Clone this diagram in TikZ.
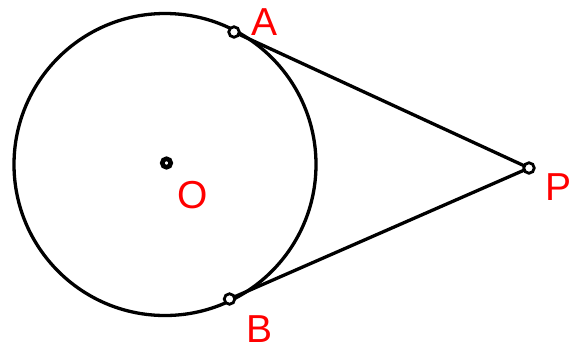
\documentclass[tikz,border=0pt]{standalone}
\usepackage{fontspec}
\setmainfont{Liberation Sans}
\begin{document}
\begin{tikzpicture}[x=1pt,y=-1pt,
  line width=3.3pt,
  lbl/.style={text=red,inner sep=0pt,font=\fontsize{39}{47}\selectfont},
  pt/.style={circle,draw=black,fill=white,line width=2.8pt,inner sep=0pt,minimum size=10.5pt},
  ctr/.style={circle,draw=black,fill=white,line width=4.6pt,inner sep=0pt,minimum size=8.5pt}]
\useasboundingbox (0,0) rectangle (580,349);
\coordinate (C) at (165,164.5);
\draw (C) circle[radius=151pt];
\draw (234,32) coordinate (a) -- (529,168) coordinate (p);
\draw (229.5,299) coordinate (b) -- (p);
\node[pt] (A) at (a) {};
\node[pt] (B) at (b) {};
\node[pt] (P) at (p) {};
\node[ctr] (O) at (166.5,163) {};
\node[lbl] (lA) at (265,22) {A};
\node[lbl] (lO) at (193,195.5) {O};
\node[lbl] (lP) at (558,187.5) {P};
\node[lbl] (lB) at (259.5,329) {B};
\end{tikzpicture}
\end{document}
